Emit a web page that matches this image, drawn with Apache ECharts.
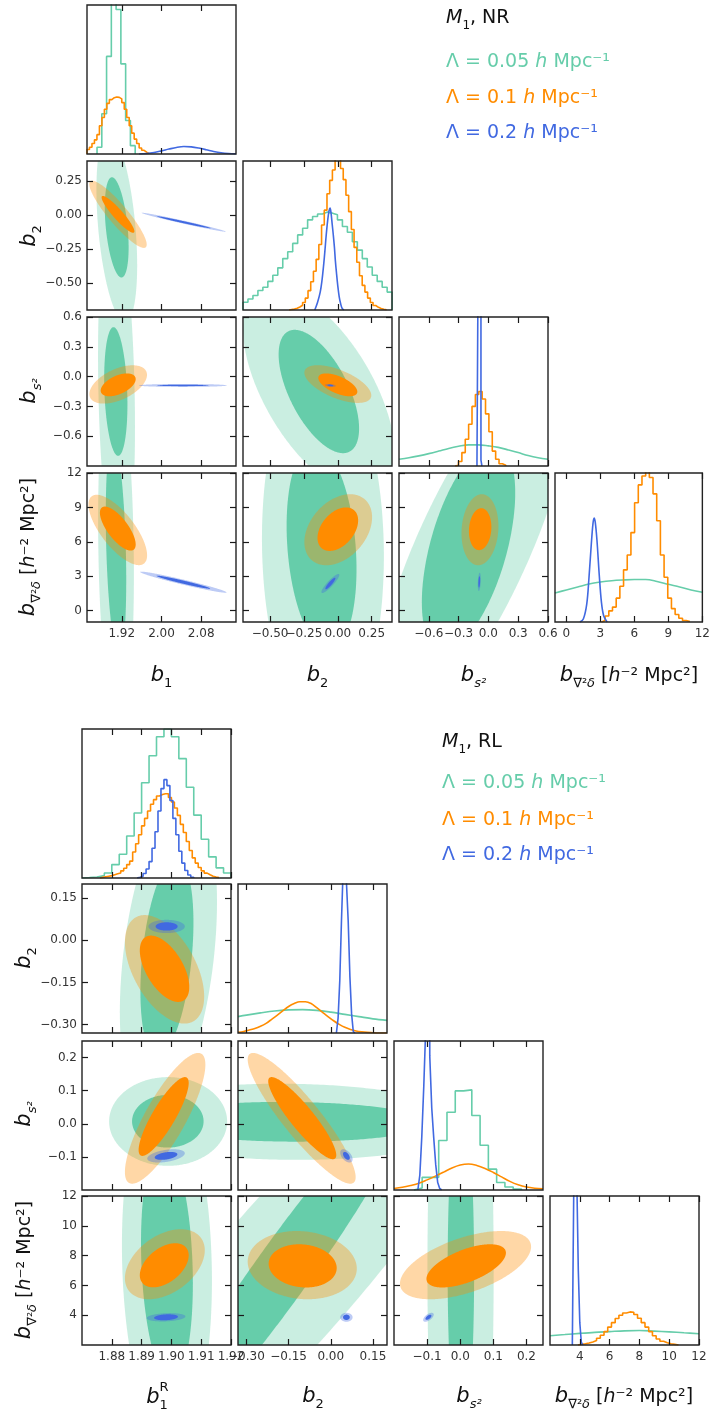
<!DOCTYPE html>
<html><head><meta charset="utf-8">
<script src="https://cdn.jsdelivr.net/npm/echarts@6/dist/echarts.min.js"></script>
<style>html,body{margin:0;padding:0;background:#fff}#c{width:713px;height:1416px}</style>
</head><body><div id="c"></div>
<script>
// ================= DATA =================
// tick labels (order only matters for label drawing; positions come from the values)
const nrTicks_b1 = ['1.92','2.00','2.08'];
const nrTicks_b2 = ['−0.25','0.25','−0.50','0.00'];
const nrTicks_bs2 = ['−0.6','−0.3','0.0','0.3','0.6'];
const nrTicks_bd = ['0','3','6','9','12'];
const rlTicks_b1 = ['1.88','1.89','1.90','1.91','1.92'];
const rlTicks_b2 = ['−0.30','−0.15','0.00','0.15'];
const rlTicks_bs2 = ['−0.1','0.0','0.1','0.2'];
const rlTicks_bd = ['4','6','8','10','12'];
// axis ranges
const nrRanges = [[1.85,2.15],[-0.7,0.4],[-0.9,0.6],[-1,12]];
const rlRanges = [[1.87,1.92],[-0.33,0.20],[-0.2,0.25],[2,12]];

// 1D marginal histograms [x, normalised height]
const nrH_b1_green = [[1.8750,0.045],[1.8846,0.27],[1.8942,0.655],[1.9038,1.25],[1.9134,0.97],[1.9230,0.605],[1.9326,0.225],[1.9422,0.056]];
const nrH_b1_orange = [[1.8525,0.03],[1.8575,0.045],[1.8625,0.07],[1.8675,0.095],[1.8725,0.13],[1.8775,0.19],[1.8825,0.245],[1.8875,0.30],[1.8925,0.34],[1.8975,0.365],[1.9025,0.378],[1.9075,0.383],[1.9125,0.38],[1.9175,0.37],[1.9225,0.345],[1.9275,0.30],[1.9325,0.245],[1.9375,0.19],[1.9425,0.14],[1.9475,0.10],[1.9525,0.07],[1.9575,0.04],[1.9625,0.025],[1.9675,0.012],[1.9725,0.004]];
const nrH_b1_blue = [[1.955,0],[1.97,0.003],[1.985,0.01],[2.0,0.021],[2.015,0.033],[2.03,0.044],[2.045,0.05],[2.06,0.048],[2.075,0.04],[2.09,0.029],[2.105,0.017],[2.12,0.008],[2.135,0.003],[2.15,0.001]];

const nrH_b2_green = [[-0.6817,0.052],[-0.645,0.074],[-0.6083,0.097],[-0.5716,0.131],[-0.5349,0.153],[-0.4982,0.192],[-0.4615,0.233],[-0.4248,0.283],[-0.3881,0.345],[-0.3514,0.391],[-0.3147,0.447],[-0.278,0.504],[-0.2413,0.549],[-0.2046,0.605],[-0.1679,0.628],[-0.1312,0.644],[-0.0945,0.657],[-0.0578,0.65],[-0.0211,0.639],[0.0156,0.605],[0.0523,0.56],[0.089,0.522],[0.1257,0.458],[0.1624,0.402],[0.1991,0.345],[0.2358,0.289],[0.2725,0.233],[0.3092,0.192],[0.3459,0.153],[0.3826,0.12]];
const nrH_b2_orange = [[-0.35,0.003],[-0.33,0.006],[-0.31,0.012],[-0.29,0.02],[-0.27,0.032],[-0.25,0.05],[-0.23,0.08],[-0.21,0.13],[-0.19,0.19],[-0.17,0.26],[-0.15,0.34],[-0.13,0.44],[-0.11,0.57],[-0.09,0.67],[-0.07,0.78],[-0.05,0.87],[-0.03,0.94],[-0.01,1.02],[0.01,1.02],[0.03,0.95],[0.05,0.875],[0.07,0.77],[0.09,0.66],[0.11,0.54],[0.13,0.42],[0.15,0.32],[0.17,0.23],[0.19,0.165],[0.21,0.12],[0.23,0.08],[0.25,0.05],[0.27,0.03],[0.29,0.018],[0.31,0.01],[0.33,0.005],[0.35,0.002]];
const nrH_b2_blue = [[-0.17,0],[-0.15,0.05],[-0.13,0.12],[-0.118,0.19],[-0.105,0.3],[-0.095,0.4],[-0.086,0.5],[-0.075,0.6],[-0.065,0.665],[-0.057,0.684],[-0.05,0.65],[-0.042,0.58],[-0.033,0.5],[-0.025,0.42],[-0.018,0.33],[-0.01,0.25],[0.0,0.16],[0.01,0.09],[0.02,0.045],[0.03,0.015],[0.045,0]];

const nrH_bs2_green = [[-0.9,0.045],[-0.8,0.055],[-0.7,0.068],[-0.6,0.083],[-0.5,0.1],[-0.4,0.118],[-0.3,0.132],[-0.2,0.142],[-0.1,0.142],[0.0,0.135],[0.1,0.125],[0.2,0.108],[0.3,0.09],[0.4,0.07],[0.5,0.055],[0.6,0.045]];
const nrH_bs2_orange = [[-0.318,0.005],[-0.284,0.03],[-0.25,0.09],[-0.216,0.18],[-0.182,0.28],[-0.148,0.4],[-0.114,0.48],[-0.08,0.5],[-0.046,0.45],[-0.012,0.35],[0.022,0.23],[0.056,0.1],[0.09,0.045],[0.124,0.015],[0.158,0.005]];
const nrH_bs2_blue = [[-0.11,0.04],[-0.1,1.2],[-0.09,1.2],[-0.08,1.2],[-0.07,0.04]];

const nrH_bd_green = [[-1,0.195],[0,0.215],[1,0.235],[2,0.255],[3,0.268],[4,0.277],[5,0.282],[6,0.285],[7,0.285],[8,0.272],[9,0.253],[10,0.235],[11,0.215],[12,0.2]];
const nrH_bd_orange = [[3.26,0.01],[3.585,0.04],[3.91,0.075],[4.235,0.1],[4.56,0.16],[4.885,0.24],[5.21,0.35],[5.535,0.45],[5.86,0.6],[6.185,0.8],[6.51,0.92],[6.835,0.98],[7.16,1.01],[7.485,0.97],[7.81,0.86],[8.135,0.68],[8.46,0.45],[8.785,0.3],[9.11,0.16],[9.435,0.09],[9.76,0.05],[10.085,0.025],[10.41,0.01],[10.735,0.003]];
const nrH_bd_blue = [[1.2,0],[1.5,0.02],[1.8,0.12],[2.0,0.3],[2.2,0.52],[2.35,0.66],[2.45,0.697],[2.55,0.67],[2.7,0.55],[2.9,0.32],[3.1,0.13],[3.3,0.04],[3.6,0]];

const rlH_b1_green = [[1.87125,0.003],[1.87375,0.007],[1.87625,0.016],[1.87875,0.034],[1.88125,0.09],[1.88375,0.159],[1.88625,0.282],[1.88875,0.436],[1.89125,0.639],[1.89375,0.82],[1.89625,0.948],[1.89875,1.0],[1.90125,0.948],[1.90375,0.801],[1.90625,0.609],[1.90875,0.422],[1.91125,0.26],[1.91375,0.142],[1.91625,0.068],[1.91875,0.034]];
const rlH_b1_orange = [[1.8765,0.004],[1.8775,0.008],[1.8785,0.012],[1.8795,0.016],[1.8805,0.022],[1.8815,0.028],[1.8825,0.034],[1.8835,0.048],[1.8845,0.065],[1.8855,0.09],[1.8865,0.113],[1.8875,0.175],[1.8885,0.23],[1.8895,0.29],[1.8905,0.35],[1.8915,0.40],[1.8925,0.45],[1.8935,0.495],[1.8945,0.526],[1.8955,0.55],[1.8965,0.56],[1.8975,0.565],[1.8985,0.565],[1.8995,0.54],[1.9005,0.51],[1.9015,0.47],[1.9025,0.42],[1.9035,0.36],[1.9045,0.305],[1.9055,0.245],[1.9065,0.185],[1.9075,0.135],[1.9085,0.1],[1.9095,0.07],[1.9105,0.048],[1.9115,0.033],[1.9125,0.022],[1.9135,0.012],[1.9145,0.006],[1.9155,0.003]];
const rlH_b1_blue = [[1.889,0.005],[1.890,0.012],[1.891,0.03],[1.892,0.06],[1.893,0.11],[1.894,0.2],[1.895,0.31],[1.896,0.45],[1.897,0.6],[1.898,0.66],[1.899,0.62],[1.900,0.52],[1.901,0.4],[1.902,0.29],[1.903,0.18],[1.904,0.1],[1.905,0.05],[1.906,0.02],[1.907,0.005]];

const rlH_b2_green = [[-0.33,0.11],[-0.3,0.12],[-0.25,0.135],[-0.2,0.148],[-0.15,0.155],[-0.1,0.157],[-0.05,0.152],[0,0.14],[0.05,0.125],[0.1,0.11],[0.15,0.095],[0.2,0.085]];
const rlH_b2_orange = [[-0.33,0.004],[-0.31,0.01],[-0.29,0.02],[-0.27,0.03],[-0.25,0.045],[-0.23,0.065],[-0.21,0.092],[-0.19,0.12],[-0.17,0.15],[-0.15,0.178],[-0.13,0.198],[-0.11,0.21],[-0.09,0.21],[-0.07,0.198],[-0.05,0.17],[-0.03,0.14],[-0.01,0.11],[0.01,0.082],[0.03,0.058],[0.05,0.038],[0.07,0.024],[0.09,0.014],[0.11,0.008],[0.13,0.004],[0.15,0.002],[0.17,0],[0.2,0]];
const rlH_b2_blue = [[0.023,0.0],[0.029,0.1],[0.035,0.35],[0.041,0.75],[0.047,1.1],[0.053,1.1],[0.059,1.0],[0.065,0.75],[0.071,0.38],[0.077,0.13],[0.083,0.01]];

const rlH_bs2_green = [[-0.1275,0.013],[-0.1025,0.085],[-0.0775,0.085],[-0.0525,0.332],[-0.0275,0.522],[-0.0025,0.665],[0.0225,0.672],[0.0475,0.5],[0.0725,0.3],[0.0975,0.14],[0.1225,0.05],[0.1475,0.02],[0.1725,0.006]];
const rlH_bs2_orange = [[-0.2,0.01],[-0.175,0.018],[-0.15,0.03],[-0.125,0.045],[-0.1,0.068],[-0.075,0.093],[-0.05,0.12],[-0.025,0.148],[0,0.168],[0.025,0.175],[0.05,0.165],[0.075,0.145],[0.1,0.118],[0.125,0.088],[0.15,0.058],[0.175,0.035],[0.2,0.02],[0.225,0.012],[0.25,0.008]];
const rlH_bs2_blue = [[-0.125,0.01],[-0.119,0.1],[-0.113,0.36],[-0.107,0.7],[-0.101,1.1],[-0.095,1.1],[-0.089,0.9],[-0.083,0.55],[-0.077,0.35],[-0.071,0.17],[-0.065,0.05],[-0.059,0.01]];

const rlH_bd_green = [[2,0.062],[3,0.07],[4,0.078],[5,0.085],[6,0.09],[7,0.095],[8,0.097],[9,0.093],[10,0.088],[11,0.082],[12,0.076]];
const rlH_bd_orange = [[4.0,0.005],[4.25,0.008],[4.5,0.013],[4.75,0.02],[5.0,0.03],[5.25,0.045],[5.5,0.065],[5.75,0.09],[6.0,0.12],[6.25,0.15],[6.5,0.178],[6.75,0.2],[7.0,0.215],[7.25,0.222],[7.5,0.22],[7.75,0.205],[8.0,0.18],[8.25,0.15],[8.5,0.12],[8.75,0.09],[9.0,0.062],[9.25,0.04],[9.5,0.025],[9.75,0.015],[10.0,0.008],[10.25,0.004],[10.5,0.0]];
const rlH_bd_blue = [[3.55,0.02],[3.65,1.1],[3.75,1.1],[3.85,1.1],[3.95,0.5],[4.05,0.15],[4.15,0.02]];

// 2D credible regions: [set(0 green,1 orange,2 blue), level(0 = 95%, 1 = 68%), cx, cy, sx, sy, rho]
const nrC_10 = [[0,0,1.910,-0.09,0.041,0.70,-0.4],[0,1,1.9098,-0.09,0.024,0.37,-0.4],[1,0,1.9124,0.0065,0.0578,0.248,-0.9],[1,1,1.9124,0.006,0.033,0.136,-0.92],[2,0,2.0447,-0.052,0.0846,0.07,-0.987],[2,1,2.0447,-0.052,0.054,0.044,-0.985]];
const nrC_20 = [[0,0,1.9094,-0.15,0.0372,1.8,-0.2],[0,1,1.908,-0.15,0.0234,0.648,-0.2],[1,0,1.9128,-0.079,0.058,0.193,0.5],[1,1,1.9128,-0.083,0.0352,0.115,0.5],[2,0,2.043,-0.089,0.0886,0.015,0],[2,1,2.043,-0.089,0.052,0.007,0]];
const nrC_30 = [[0,0,1.9084,5.5,0.036,16,-0.15],[0,1,1.9084,5.5,0.0206,9.5,-0.3],[1,0,1.912,7.03,0.059,3.07,-0.72],[1,1,1.912,7.15,0.036,1.92,-0.72],[2,0,2.044,2.475,0.087,0.92,-0.97],[2,1,2.044,2.475,0.054,0.57,-0.97]];
const nrC_21 = [[0,0,-0.14,-0.15,0.56,1.05,-0.6],[0,1,-0.14,-0.15,0.297,0.621,-0.6],[1,0,0.0,-0.075,0.247,0.19,-0.6],[1,1,0.0,-0.083,0.144,0.115,-0.6],[2,0,-0.055,-0.089,0.04,0.015,-0.3],[2,1,-0.055,-0.089,0.022,0.009,-0.3]];
const nrC_31 = [[0,0,-0.11,5.5,0.45,16,-0.05],[0,1,-0.12,5.5,0.258,9,-0.21],[1,0,0.003,7.05,0.25,3.1,0.35],[1,1,0.0,7.1,0.15,1.9,0.4],[2,0,-0.055,2.36,0.066,0.83,0.9],[2,1,-0.055,2.36,0.037,0.5,0.9]];
const nrC_32 = [[0,0,-0.155,5.5,0.98,16,0.78],[0,1,-0.2,5.5,0.47,9,0.53],[1,0,-0.085,7.05,0.186,3.1,0.1],[1,1,-0.083,7.1,0.113,1.83,0.1],[2,0,-0.092,2.5,0.015,0.8,0.3],[2,1,-0.092,2.5,0.009,0.5,0.3]];

const rlC_10 = [[0,0,1.899,-0.06,0.0163,0.56,0.35],[0,1,1.8985,-0.06,0.0089,0.35,0.35],[1,0,1.8977,-0.1035,0.0133,0.193,-0.5],[1,1,1.8977,-0.1015,0.0083,0.118,-0.55],[2,0,1.8984,0.049,0.0061,0.0236,0],[2,1,1.8984,0.049,0.0037,0.0148,0]];
const rlC_20 = [[0,0,1.8989,0.007,0.0198,0.134,0],[0,1,1.8988,0.0075,0.012,0.0795,0],[1,0,1.8979,0.0165,0.0135,0.1975,0.82],[1,1,1.8974,0.022,0.0084,0.119,0.85],[2,0,1.8982,-0.097,0.0063,0.02,0.4],[2,1,1.8982,-0.097,0.0038,0.012,0.4]];
const rlC_30 = [[0,0,1.8985,7.5,0.0151,12,-0.1],[0,1,1.8985,7.5,0.0087,8,-0.17],[1,0,1.8978,7.42,0.0134,2.35,0.4],[1,1,1.8976,7.35,0.0082,1.48,0.45],[2,0,1.8982,3.86,0.0065,0.28,0.2],[2,1,1.8982,3.86,0.004,0.2,0.2]];
const rlC_21 = [[0,0,-0.15,0.006,0.65,0.115,-0.05],[0,1,-0.15,0.006,0.5,0.06,-0.05],[1,0,-0.1035,0.0165,0.192,0.1975,-0.9],[1,1,-0.1015,0.017,0.121,0.124,-0.9],[2,0,0.0556,-0.097,0.022,0.02,-0.5],[2,1,0.0556,-0.097,0.012,0.012,-0.5]];
const rlC_31 = [[0,0,-0.15,7,0.84,18,0.92],[0,1,-0.17,7,0.46,12,0.965],[1,0,-0.1015,7.36,0.194,2.29,-0.1],[1,1,-0.10,7.31,0.121,1.45,-0.1],[2,0,0.0556,3.86,0.022,0.3,0],[2,1,0.0556,3.86,0.012,0.18,0]];
const rlC_32 = [[0,0,0.001,7,0.1,25,0],[0,1,0.002,7,0.04,12,0],[1,0,0.016,7.36,0.198,2.29,0.54],[1,1,0.018,7.31,0.12,1.45,0.6],[2,0,-0.096,3.86,0.016,0.3,0.6],[2,1,-0.096,3.86,0.009,0.17,0.6]];

// ================= CHART =================
const COLORS = ['#66CDAA','#FF8C00','#4169E1'];
const FONT = 'DejaVu Sans';
const option = {animation:false, backgroundColor:'#fff', grid:[], xAxis:[], yAxis:[], series:[], graphic:{elements:[]}};

function parseTicks(a){return a.map(s=>parseFloat(s.replace('−','-')));}
function fmt(a){const v=parseTicks(a);return x=>{for(let i=0;i<v.length;i++){if(Math.abs(v[i]-x)<1e-6)return a[i];}return '';};}
function stepPoints(p){
  const n=p.length, xs=p.map(q=>q[0]), e=[];
  for(let i=0;i<=n;i++){
    if(i===0) e.push(xs[0]-(n>1?(xs[1]-xs[0])/2:0.005));
    else if(i===n) e.push(xs[n-1]+(n>1?(xs[n-1]-xs[n-2])/2:0.005));
    else e.push((xs[i-1]+xs[i])/2);
  }
  const out=[[e[0],0]];
  for(let i=0;i<n;i++) out.push([e[i],p[i][1]]);
  out.push([e[n],0]);
  return out;
}
function ellipseRenderer(color, opacity){
  return function(params, api){
    const cx=api.value(0), cy=api.value(1), sx=api.value(2), sy=api.value(3), r=api.value(4);
    const k=Math.sqrt(Math.max(0,1-r*r)); const pts=[]; const N=360;
    for(let i=0;i<N;i++){const t=i/N*2*Math.PI;
      pts.push(api.coord([cx+sx*Math.cos(t), cy+sy*(r*Math.cos(t)+k*Math.sin(t))]));}
    return {type:'polygon', shape:{points:pts}, style:{fill:color, opacity:opacity, stroke:null}};
  };
}
function mkTick(vals){ return {show:true, inside:true, length:6, lineStyle:{color:'#1a1a1a', width:1.2}, customValues:vals}; }
function addCorner(C){
  for(let r=0;r<4;r++) for(let c=0;c<=r;c++){
    const g=option.grid.length;
    option.grid.push({left:C.cols[c], top:C.rows[r], width:C.size, height:C.size, show:true, z:3,
      borderColor:'#222', borderWidth:1.4, backgroundColor:'rgba(0,0,0,0)'});
    const xt=parseTicks(C.ticks[c]);
    const xi=option.xAxis.length;
    option.xAxis.push({type:'value', gridIndex:g, min:C.ranges[c][0], max:C.ranges[c][1], position:'bottom', z:4,
      axisLine:{show:false, onZero:false}, splitLine:{show:false}, axisTick:mkTick(xt),
      axisLabel:{show:r===3, customValues:xt, formatter:fmt(C.ticks[c]), fontSize:12, color:'#333', fontFamily:FONT, margin:6,
        hideOverlap:false, showMinLabel:true, showMaxLabel:true}});
    option.xAxis.push({type:'value', gridIndex:g, min:C.ranges[c][0], max:C.ranges[c][1], position:'top', z:4,
      axisLine:{show:false, onZero:false}, splitLine:{show:false}, axisTick:mkTick(xt), axisLabel:{show:false}});
    const yi=option.yAxis.length;
    if(r===c){
      option.yAxis.push({type:'value', gridIndex:g, min:0, max:1, show:false, axisLine:{show:false, onZero:false}});
      for(const h of C.hists[c]){
        const isStep=h[2]==='step';
        option.series.push({type:'line', xAxisIndex:xi, yAxisIndex:yi, data:isStep?stepPoints(h[1]):h[1],
          step:isStep?'end':false, smooth:isStep?false:0.35, symbol:'none', showSymbol:false, silent:true, z:2,
          lineStyle:{color:COLORS[h[0]], width:1.6}});
      }
    } else {
      const yt=parseTicks(C.ticks[r]);
      option.yAxis.push({type:'value', gridIndex:g, min:C.ranges[r][0], max:C.ranges[r][1], position:'left', z:4,
        axisLine:{show:false, onZero:false}, splitLine:{show:false}, axisTick:mkTick(yt),
        axisLabel:{show:c===0, customValues:yt, formatter:fmt(C.ticks[r]), fontSize:12, color:'#333', fontFamily:FONT, margin:5,
          hideOverlap:false, showMinLabel:true, showMaxLabel:true}});
      option.yAxis.push({type:'value', gridIndex:g, min:C.ranges[r][0], max:C.ranges[r][1], position:'right', z:4,
        axisLine:{show:false, onZero:false}, splitLine:{show:false}, axisTick:mkTick(yt), axisLabel:{show:false}});
      for(const row of C.contours[''+r+c]){
        option.series.push({type:'custom', xAxisIndex:xi, yAxisIndex:yi, clip:true, silent:true, z:2,
          data:[row.slice(2)], renderItem:ellipseRenderer(COLORS[row[0]], row[1]===0?0.35:1)});
      }
    }
  }
}

addCorner({cols:[87,243,399,555], rows:[5,161,317,473], size:149, ranges:nrRanges,
  ticks:[nrTicks_b1,nrTicks_b2,nrTicks_bs2,nrTicks_bd],
  hists:[[[0,nrH_b1_green,'step'],[1,nrH_b1_orange,'step'],[2,nrH_b1_blue,'smooth']],
         [[0,nrH_b2_green,'step'],[1,nrH_b2_orange,'step'],[2,nrH_b2_blue,'smooth']],
         [[0,nrH_bs2_green,'smooth'],[1,nrH_bs2_orange,'step'],[2,nrH_bs2_blue,'step']],
         [[0,nrH_bd_green,'smooth'],[1,nrH_bd_orange,'step'],[2,nrH_bd_blue,'smooth']]],
  contours:{'10':nrC_10,'20':nrC_20,'30':nrC_30,'21':nrC_21,'31':nrC_31,'32':nrC_32}});
addCorner({cols:[82,238,394,550], rows:[729,884,1041,1196], size:149, ranges:rlRanges,
  ticks:[rlTicks_b1,rlTicks_b2,rlTicks_bs2,rlTicks_bd],
  hists:[[[0,rlH_b1_green,'step'],[1,rlH_b1_orange,'step'],[2,rlH_b1_blue,'step']],
         [[0,rlH_b2_green,'smooth'],[1,rlH_b2_orange,'smooth'],[2,rlH_b2_blue,'step']],
         [[0,rlH_bs2_green,'step'],[1,rlH_bs2_orange,'smooth'],[2,rlH_bs2_blue,'step']],
         [[0,rlH_bd_green,'smooth'],[1,rlH_bd_orange,'step'],[2,rlH_bd_blue,'step']]],
  contours:{'10':rlC_10,'20':rlC_20,'30':rlC_30,'21':rlC_21,'31':rlC_31,'32':rlC_32}});

// ---------- text (labels, legends) ----------
const RICH = {
  b:{fontSize:21, fontStyle:'italic', fontFamily:FONT, lineHeight:28, verticalAlign:'middle'},
  s:{fontSize:13, fontFamily:FONT, lineHeight:13, verticalAlign:'bottom'},
  si:{fontSize:13, fontStyle:'italic', fontFamily:FONT, lineHeight:13, verticalAlign:'bottom'},
  sm:{fontSize:13, fontFamily:FONT, lineHeight:13, verticalAlign:'middle'},
  n:{fontSize:19, fontFamily:FONT, lineHeight:28, verticalAlign:'middle'},
  i:{fontSize:19, fontStyle:'italic', fontFamily:FONT, lineHeight:28, verticalAlign:'middle'},
  ls:{fontSize:12, fontFamily:FONT, lineHeight:12, verticalAlign:'bottom'}
};
const LBL_B1='{b|b}{s|1}', LBL_B2='{b|b}{s|2}', LBL_BS2='{b|b}{si|s²}',
      LBL_BD='{b|b}{s|∇²}{si|δ}{n| [}{i|h}{n|⁻² Mpc²]}';
function T(x,y,text,opt){
  const o=Object.assign({align:'center', rot:0, fill:'#111'}, opt||{});
  option.graphic.elements.push({type:'text', x:x, y:y, rotation:o.rot, silent:true, z:20,
    style:{text:text, rich:RICH, align:o.align, verticalAlign:'middle', fill:o.fill, fontFamily:FONT, fontSize:19}});
}
const ROT=Math.PI/2;
T(161.5,676,LBL_B1); T(317.5,676,LBL_B2); T(473.5,676,LBL_BS2); T(629,676,LBL_BD);
T(30,236,LBL_B2,{rot:ROT}); T(30,391,LBL_BS2,{rot:ROT}); T(29,547,LBL_BD,{rot:ROT});
T(157,1398,LBL_B1); T(164,1388,'{sm|R}');
T(313,1397,LBL_B2); T(469,1397,LBL_BS2); T(624,1397,LBL_BD);
T(25,958,LBL_B2,{rot:ROT}); T(25,1114,LBL_BS2,{rot:ROT}); T(25,1270,LBL_BD,{rot:ROT});
const LEG = ['0.05','0.1','0.2'];
function legend(x, y0, ys, tag){
  T(x, y0, '{i|M}{ls|1}{n|, '+tag+'}', {align:'left', fill:'#111'});
  for(let k=0;k<3;k++) T(x, ys[k], '{n|Λ = '+LEG[k]+' }{i|h}{n| Mpc⁻¹}', {align:'left', fill:COLORS[k]});
}
legend(446, 18, [62,98,133], 'NR');
legend(442, 742, [783,820,855], 'RL');

const chart = echarts.init(document.getElementById('c'), null, {renderer:'canvas'});
chart.setOption(option);
</script></body></html>
